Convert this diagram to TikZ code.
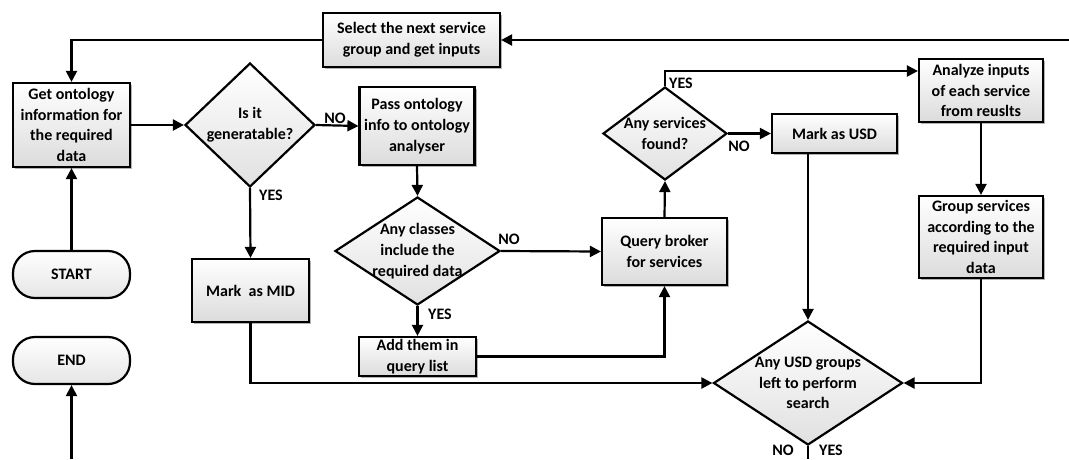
\documentclass[tikz,border=0pt]{standalone}
\usepackage{fontspec}
\setmainfont{Carlito}
\usetikzlibrary{arrows.meta,shapes.geometric,shadows,calc}
\begin{document}
\begin{tikzpicture}[x=1pt,y=-1pt,
  every node/.style={font=\fontsize{16}{20.7}\selectfont\bfseries, align=center},
  box/.style={draw, line width=2.2pt, rectangle, inner sep=0pt,
    top color=white, bottom color=black!14,
    drop shadow={shadow xshift=2.2pt, shadow yshift=-2.2pt, opacity=0.3, fill=black}},
  term/.style={draw, line width=2.2pt, rectangle, rounded corners=22pt, inner sep=0pt,
    minimum width=117pt, minimum height=47pt, top color=white, bottom color=black!10},
  dia/.style={draw, line width=2.2pt, diamond, inner sep=0pt,
    top color=white, bottom color=black!12},
  arr/.style={line width=2.2pt, -{Triangle[length=11pt,width=11pt]}},
  ln/.style={line width=2.2pt},
  lbl/.style={font=\fontsize{16}{18}\selectfont\bfseries, inner sep=0pt}
]
\useasboundingbox (0,0) rectangle (1069,459);

% process boxes
\node[box, minimum width=177pt, minimum height=54pt] (sel) at (411.5,40) {Select the next service\\group and get inputs};
\node[box, minimum width=117pt, minimum height=84pt] (get) at (71.5,125) {Get ontology\\information for\\the required\\data};
\node[box, minimum width=115pt, minimum height=78pt] (pass) at (417,126) {Pass ontology\\info to ontology\\analyser};
\node[box, minimum width=117pt, minimum height=63pt] (mid) at (250.5,290.5) {Mark~ as MID};
\node[box, minimum width=117pt, minimum height=39pt] (add) at (417.5,356.5) {Add them in\\query list};
\node[box, minimum width=125pt, minimum height=67pt] (query) at (664.5,251.5) {Query broker\\for services};
\node[box, minimum width=125pt, minimum height=39pt] (usd) at (834.5,133.5) {Mark as USD};
\node[box, minimum width=124pt, minimum height=63pt] (ana) at (981,90.5) {Analyze inputs\\of each service\\from reuslts};
\node[box, minimum width=124pt, minimum height=82pt] (grp) at (981,237) {Group services\\according to the\\required input\\data};

% terminals
\node[term] (start) at (71.5,274.5) {START};
\node[term] (end) at (71.5,360.5) {END};

% decisions
\node[dia, minimum width=130pt, minimum height=124pt,
  label={[align=center]center:Is it\\generatable?}] (d1) at (250,125) {};
\node[dia, minimum width=165pt, minimum height=108pt,
  label={[align=center]center:Any classes\\include the\\required data}] (d2) at (417.5,251) {};
\node[dia, minimum width=124pt, minimum height=93pt,
  label={[align=center]center:Any services\\found?}] (d3) at (665,133.5) {};
\node[dia, minimum width=189pt, minimum height=124pt,
  label={[align=center]center:Any USD groups\\left to perform\\search}] (d4) at (808,383) {};

% loose ends running off the sheet
\coordinate (rt) at (1069,40);
\coordinate (bl) at (71.5,459);
\coordinate (bm) at (808,459);

% connectors
\draw[arr] (rt) -- (sel.east);
\draw[arr] (sel.west) -| (get.north);
\draw[arr] (start.north) -- (get.south);
\draw[arr] (bl) -- (end.south);
\draw[arr] (get.east) -- (d1.west);
\draw[arr] (d1.east) -- (pass.west);
\draw[arr] (d1.south) -- (mid.north);
\draw[arr] (pass.south) -- (d2.north);
\draw[arr] (d2.east) -- (query.west);
\draw[arr] (d2.south) -- (add.north);
\draw[arr] (add.east) -| (query.south);
\draw[arr] (query.north) -- (d3.south);
\draw[arr] (d3.north) |- ([yshift=19.5pt]ana.west);
\draw[arr] (d3.east) -- (usd.west);
\draw[arr] (usd.south -| d4.north) -- (d4.north);
\draw[arr] (ana.south) -- (grp.north);
\draw[arr] (grp.south) |- (d4.east);
\draw[arr] (mid.south) |- (d4.west);
\draw[ln] (d4.south) -- (bm);

% branch labels
\node[lbl] (l1) at (335,118) {NO};
\node[lbl] (l2) at (271,195) {YES};
\node[lbl] (l3) at (509,239) {NO};
\node[lbl] (l4) at (440,314) {YES};
\node[lbl] (l5) at (681,83) {YES};
\node[lbl] (l6) at (739,146) {NO};
\node[lbl] (l7) at (783,450) {NO};
\node[lbl] (l8) at (831,450) {YES};
\end{tikzpicture}
\end{document}
